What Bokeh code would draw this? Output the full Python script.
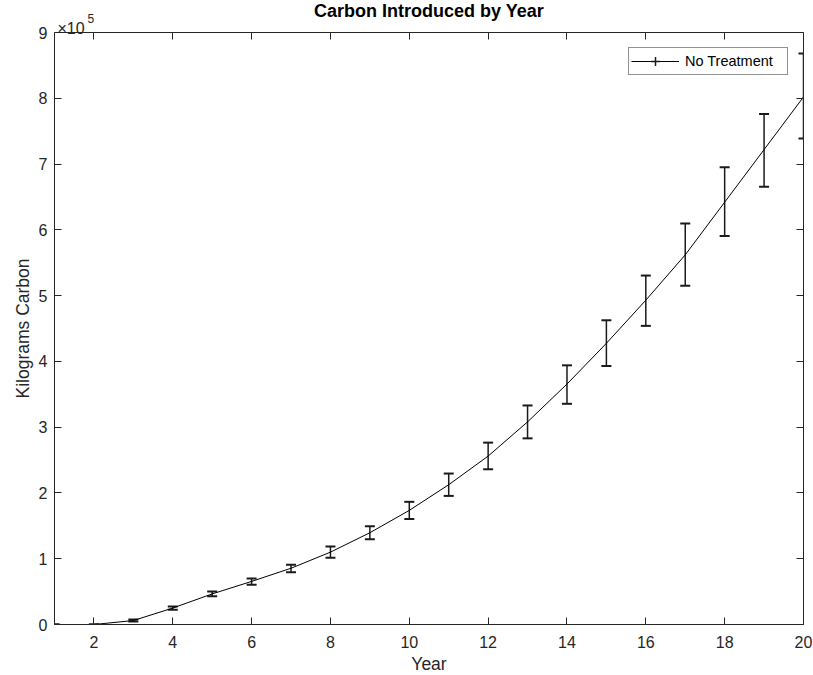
import numpy as np
from bokeh.plotting import figure
from bokeh.models import (ColumnDataSource, Whisker, TeeHead, Legend, LegendItem,
                          LinearAxis, Label, FixedTicker, CustomJSTickFormatter, Range1d, Title)
from bokeh.embed import file_html
from bokeh.resources import INLINE

# ---- data ----
years = list(range(1, 21))
carbon = [0, 0, 6000, 25000, 46500, 65500, 85500, 110000, 139500, 173500,
          212500, 256000, 308000, 365500, 427500, 493000, 562000, 642000, 722000, 802000]
carbon_upper = [0, 0, 7500, 27500, 50000, 70000, 91000, 118500, 149500, 186500,
                229500, 276500, 333000, 394000, 462500, 530500, 609500, 695000, 776000, 868000]
carbon_lower = [0, 0, 4500, 22500, 43000, 60500, 79500, 101500, 129500, 160500,
                195500, 236000, 283000, 335500, 393000, 454000, 515000, 590500, 665500, 739000]

x_ticks = [2, 4, 6, 8, 10, 12, 14, 16, 18, 20]
y_ticks = [0, 100000, 200000, 300000, 400000, 500000, 600000, 700000, 800000, 900000]
y_tick_labels = ["0", "1", "2", "3", "4", "5", "6", "7", "8", "9"]
x_limits = (1, 20)
y_limits = (0, 900000)

title_text = "Carbon Introduced by Year"
x_label = "Year"
y_label = "Kilograms Carbon"
series_name = "No Treatment"
exp_base = "×10"
exp_power = "5"

# ---- styles ----
FONT = "Liberation Sans"
AX = "#262626"

p = figure(width=813, height=675, output_backend="svg", toolbar_location=None, title=None,
           x_range=Range1d(*x_limits), y_range=Range1d(*y_limits),
           min_border_left=54, min_border_right=10, min_border_top=0, min_border_bottom=51,
           background_fill_color="white", border_fill_color="white")
p.outline_line_color = None
p.grid.visible = False

def style_axis(ax, labels=True):
    ax.axis_line_color = AX
    ax.axis_line_width = 1
    ax.major_tick_line_color = AX
    ax.major_tick_line_width = 1
    ax.major_tick_in = 7
    ax.major_tick_out = 0
    ax.minor_tick_line_color = None
    ax.major_label_text_font = FONT
    ax.major_label_text_font_size = "16px"
    ax.major_label_text_color = AX
    ax.axis_label_text_font = FONT
    ax.axis_label_text_font_size = "17.5px"
    ax.axis_label_text_font_style = "normal"
    ax.axis_label_text_color = AX
    if not labels:
        ax.formatter = CustomJSTickFormatter(code="return ''")
        ax.major_label_standoff = 0
        ax.major_label_text_font_size = "0px"

xa = p.xaxis[0]
xa.ticker = FixedTicker(ticks=x_ticks)
xa.major_label_standoff = 11
style_axis(xa)

ya = p.yaxis[0]
ya.ticker = FixedTicker(ticks=y_ticks)
ya.major_label_overrides = {int(v): s for v, s in zip(y_ticks, y_tick_labels)}
ya.axis_label = y_label
ya.major_label_standoff = 7
ya.axis_label_standoff = 3
style_axis(ya)

top_ax = LinearAxis(ticker=FixedTicker(ticks=x_ticks))
style_axis(top_ax, labels=False)
right_ax = LinearAxis(ticker=FixedTicker(ticks=y_ticks))
style_axis(right_ax, labels=False)
p.add_layout(right_ax, "right")

# top band: exponent "×10^5" and the title share the strip above the frame
lab_base = Label(x=3, y=4, x_units="screen", y_units="screen", text=exp_base,
                 text_font=FONT, text_font_size="16px", text_color=AX,
                 text_baseline="alphabetic", text_align="left")
main_title = Title(text=title_text, align="center", vertical_align="top",
                   text_font=FONT, text_font_size="18px",
                   text_font_style="bold", text_color="#000000", standoff=-16.3)
lab_pow = Label(x=33, y=-8.6, x_units="screen", y_units="screen", text=exp_power,
                text_font=FONT, text_font_size="12px", text_color=AX,
                text_baseline="alphabetic", text_align="left")
p.above = [top_ax, lab_base, main_title, lab_pow]

# x axis label as a title panel below the axis
p.add_layout(Title(text=x_label, align="center", text_font=FONT, text_font_size="17.5px",
                   text_font_style="normal", text_color=AX, standoff=3), "below")

# ---- data marks ----
src = ColumnDataSource(dict(x=years, y=carbon, upper=carbon_upper, lower=carbon_lower))
line_r = p.line("x", "y", source=src, line_color="#000000", line_width=1)

whisk = Whisker(source=src, base="x", upper="upper", lower="lower",
                line_color="#1a1a1a", line_width=1.5,
                upper_head=TeeHead(size=10, line_color="#1a1a1a", line_width=2),
                lower_head=TeeHead(size=10, line_color="#1a1a1a", line_width=2))
p.add_layout(whisk)

# legend symbol for the error bar (zero-size markers: only visible in the legend)
bar_r = p.scatter("x", "y", source=src, marker="cross", size=0,
                  line_color="#1a1a1a", line_width=1.5)

legend = Legend(items=[LegendItem(label=series_name, renderers=[line_r, bar_r])],
                location="top_right", margin=15, padding=2, spacing=0,
                glyph_width=48, glyph_height=22, label_height=22, label_width=100,
                label_standoff=6,
                border_line_color=AX, border_line_width=1,
                background_fill_color="white", background_fill_alpha=1,
                label_text_font=FONT, label_text_font_size="14.5px", label_text_color="#000000")
p.add_layout(legend)

open("out.html", "w").write(file_html(p, INLINE))
